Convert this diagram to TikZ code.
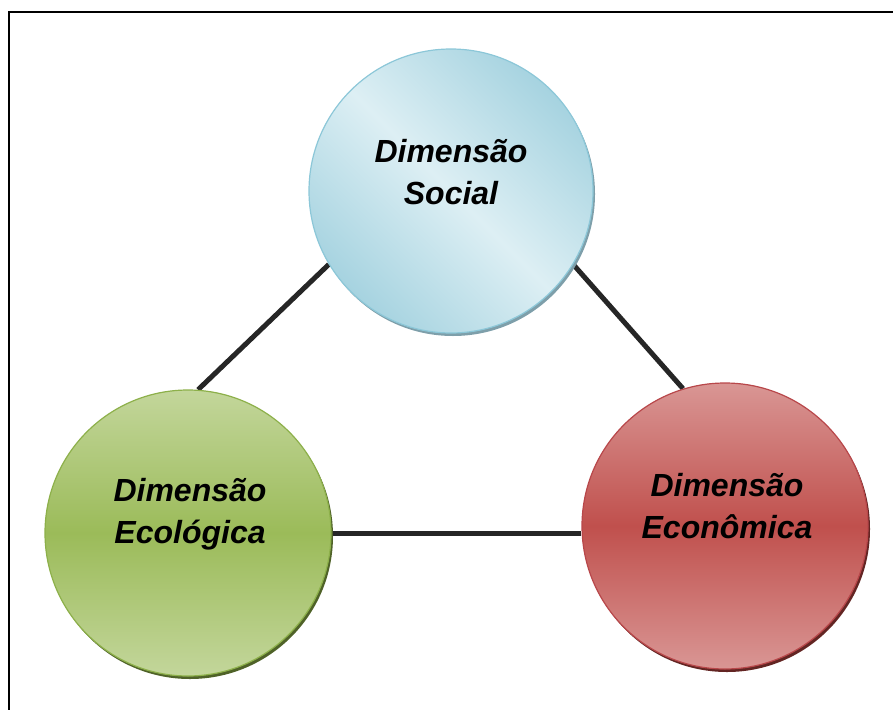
\documentclass[tikz,border=0pt]{standalone}
\usepackage{fontspec}
\setmainfont{Liberation Sans}
\usepackage{xcolor}
\usepackage{tikz}
\usetikzlibrary{shadows}
\usetikzlibrary{backgrounds}

\definecolor{linkgray}{HTML}{262626}
\definecolor{socialedge}{HTML}{8CC7D8}
\definecolor{socialdark}{HTML}{A6D3E0}
\definecolor{sociallight}{HTML}{DDEFF4}
\definecolor{socialshadow}{HTML}{7E9FAA}
\definecolor{ecoedge}{HTML}{8DB04A}
\definecolor{ecolight}{HTML}{C3D69B}
\definecolor{ecomid}{HTML}{9BBB59}
\definecolor{ecoshadow}{HTML}{4F6228}
\definecolor{econedge}{HTML}{B8474A}
\definecolor{econlight}{HTML}{D99694}
\definecolor{econmid}{HTML}{C0504D}
\definecolor{econshadow}{HTML}{632523}

\begin{document}
\begin{tikzpicture}[x=1pt,y=-1pt,
    dim/.style={circle,minimum size=284pt,inner sep=0pt,line width=1.2pt},
    dimtext/.style={font=\fontsize{32}{42}\selectfont\bfseries\itshape,align=center},
    link/.style={line width=5pt,draw=linkgray}]
    \useasboundingbox (0,0) rectangle (893,709);
    \clip (0,0) rectangle (893,709);
    \draw[line width=2pt] (9,730) -- (9,12) -- (910,12);
    %
    \node[dim,draw=socialedge,top color=socialdark,bottom color=socialdark,
      middle color=sociallight,shading angle=-45,
      drop shadow={shadow xshift=2pt,shadow yshift=-3pt,fill=socialshadow,opacity=1}]
      (social) at (451,191) {};
    \node[dim,minimum size=286pt,draw=ecoedge,top color=ecolight,bottom color=ecolight,
      middle color=ecomid,
      drop shadow={shadow xshift=2pt,shadow yshift=-3pt,fill=ecoshadow,opacity=1}]
      (eco) at (188,533) {};
    \node[dim,minimum size=286pt,draw=econedge,top color=econlight,bottom color=econlight,
      middle color=econmid,
      drop shadow={shadow xshift=2pt,shadow yshift=-3pt,fill=econshadow,opacity=1}]
      (econ) at (725,526) {};
    %
    \node[dimtext] (socialtxt) at ([yshift=19pt]social.center) {Dimensão\\Social};
    \node[dimtext] (ecotxt) at ([xshift=2pt,yshift=19pt]eco.center) {Dimensão\\Ecológica};
    \node[dimtext] (econtxt) at ([xshift=2pt,yshift=20pt]econ.center) {Dimensão\\Econômica};
    %
    \begin{scope}[on background layer]
      \draw[link] (social.211) -- (eco.86);
      \draw[link] (social.329) -- (econ.107);
      \draw[link] (eco.east) -- (econ.west |- eco.east);
    \end{scope}
  \end{tikzpicture}
\end{document}
